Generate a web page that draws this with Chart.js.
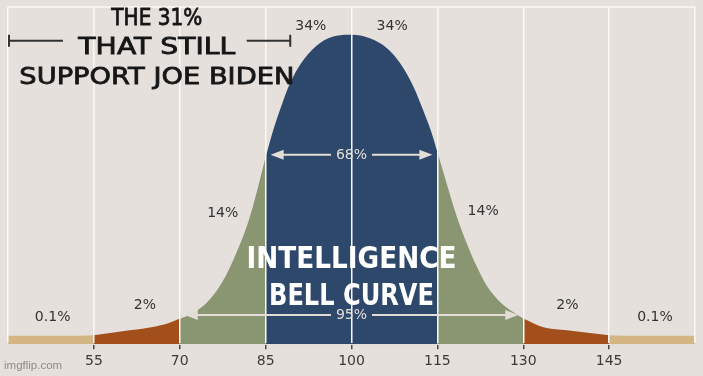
<!DOCTYPE html>
<html><head><meta charset="utf-8">
<script src="https://cdn.jsdelivr.net/npm/chart.js@4/dist/chart.umd.min.js"></script>
<style>html,body{margin:0;padding:0;background:#e5e0dc;overflow:hidden}#wrap{width:703px;height:376px}canvas{display:block}</style>
</head><body><div id="wrap"><canvas id="c" width="703" height="376"></canvas></div>
<script>
// IQ values along the curve and the curve height (% of peak)
const iqPoints = [40, 50, 55, 60, 65, 68, 70, 71, 73, 75.5, 78, 79.6, 81.4, 82.6, 83.7, 85, 86.3, 87.5, 89.3, 91.6, 94.5, 97.4, 100,
  103.2, 106.2, 108.5, 110.8, 112.5, 114.0, 115, 116.6, 118.4, 120.1, 121.9, 123.6, 126.0, 128.3, 130, 133.5, 137.7, 140.5, 145, 150, 160];
const heightPoints = [2.7, 2.7, 2.9, 4.2, 5.5, 6.8, 8.3, 8.9, 10.8, 15.0, 22.0, 28.3, 36.5, 43.4, 51.0, 60.5, 69.0, 75.7, 84.5, 91.9, 97.4, 99.7, 100,
  98.9, 95.7, 90.8, 83.3, 75.7, 68.3, 62.1, 52.1, 41.2, 32.7, 25.0, 19.0, 13.6, 10.3, 8.3, 5.5, 4.5, 3.9, 2.9, 2.7, 2.7];
const bandEdges = [40, 55, 70, 85, 115, 130, 145, 160];
const bandColors = ['#d3b684', '#a24f1c', '#8a9571', '#2e486c', '#8a9571', '#a24f1c', '#d3b684'];
const tickValues = [55, 70, 85, 100, 115, 130, 145];
const gridValues = [40, 55, 70, 85, 100, 115, 130, 145, 160];
const shareLabels = ['34%', '34%', '14%', '14%', '2%', '2%', '0.1%', '0.1%'];
const shareLabelIQ = [92.9, 107.1, 77.5, 123.0, 63.9, 137.7, 47.8, 153.0];
const shareLabelHeight = [102.6, 102.6, 42.4, 43.0, 12.6, 12.6, 8.7, 8.7];
const spanLabels = ['68%', '95%'];
const spanFrom = [85, 70];
const spanTo = [115, 130];
const spanHeight = [61.2, 9.4];
const titleLines = ['INTELLIGENCE', 'BELL CURVE'];
const captionLines = ['THE 31%', 'THAT STILL', 'SUPPORT JOE BIDEN'];

const datasets = [];
for (let i = 0; i < bandColors.length; i++) {
  const pts = [];
  iqPoints.forEach((x, k) => { if (x >= bandEdges[i] && x <= bandEdges[i + 1]) pts.push({x: x, y: heightPoints[k]}); });
  datasets.push({data: pts, backgroundColor: bandColors[i], borderColor: 'rgba(0,0,0,0)', borderWidth: 0, pointRadius: 0, fill: 'origin', cubicInterpolationMode: 'monotone'});
}

const bgPlugin = {
  id: 'bg',
  beforeDraw(chart) {
    const c = chart.ctx; c.save(); c.fillStyle = '#e5e0dc'; c.fillRect(0, 0, chart.width, chart.height); c.restore();
  }
};

function arrowHead(c, x, y, dir) {
  c.beginPath(); c.moveTo(x, y); c.lineTo(x - dir * 13, y - 5); c.lineTo(x - dir * 13, y + 5); c.closePath(); c.fill();
}

const textPlugin = {
  id: 'texts',
  afterDraw(chart) {
    const c = chart.ctx, xs = chart.scales.x, ys = chart.scales.y, a = chart.chartArea;
    c.save();
    // clear strip above the plot
    c.fillStyle = '#e5e0dc'; c.fillRect(0, 0, chart.width, a.top - 1);
    // top frame line
    c.strokeStyle = '#fbf9f6'; c.lineWidth = 1.5;
    c.beginPath(); c.moveTo(a.left, a.top); c.lineTo(a.right, a.top); c.stroke();
    // share labels
    c.fillStyle = '#333'; c.font = '14px "DejaVu Sans"'; c.textAlign = 'center'; c.textBaseline = 'middle';
    shareLabels.forEach((t, i) => c.fillText(t, xs.getPixelForValue(shareLabelIQ[i]), ys.getPixelForValue(shareLabelHeight[i])));
    // span arrows
    spanLabels.forEach((t, i) => {
      const x1 = xs.getPixelForValue(spanFrom[i]) + 5, x2 = xs.getPixelForValue(spanTo[i]) - 5;
      const y = ys.getPixelForValue(spanHeight[i]), xm = xs.getPixelForValue(100);
      c.font = '14px "DejaVu Sans"';
      const w = c.measureText(t).width / 2 + 5;
      c.strokeStyle = '#e2ded6'; c.fillStyle = '#e2ded6'; c.lineWidth = 2;
      c.beginPath(); c.moveTo(x1 + 4, y); c.lineTo(xm - w, y); c.moveTo(xm + w, y); c.lineTo(x2 - 4, y); c.stroke();
      arrowHead(c, x1, y, -1); arrowHead(c, x2, y, 1);
      c.fillText(t, xm, y);
    });
    // headline, each line fitted to its width in the picture
    c.fillStyle = '#ffffff'; c.font = 'bold 30px "DejaVu Sans Condensed"';
    const th = [27.2, 15.2], tw = [210, 165];
    titleLines.forEach((t, i) => {
      const sx = tw[i] / c.measureText(t).width;
      c.save(); c.translate(xs.getPixelForValue(100), ys.getPixelForValue(th[i])); c.scale(sx, 1); c.fillText(t, 0, 0); c.restore();
    });
    // caption, each line fitted to its measured width in the picture
    c.fillStyle = '#161616'; c.strokeStyle = '#161616'; c.lineWidth = 0.8; c.font = '23px "DejaVu Sans"';
    const cy = [105.2, 95.8, 86.1], cw = [91, 157, 275];
    const cx = xs.getPixelForValue(66.0);
    captionLines.forEach((t, i) => {
      const sx = cw[i] / c.measureText(t).width;
      c.save(); c.translate(cx, ys.getPixelForValue(cy[i])); c.scale(sx, 1); c.fillText(t, 0, 0); c.strokeText(t, 0, 0); c.restore();
    });
    // caption bracket
    const by = ys.getPixelForValue(98.1), bl = xs.getPixelForValue(40) + 1, br = xs.getPixelForValue(89.3);
    c.strokeStyle = '#333'; c.lineWidth = 2;
    c.beginPath();
    c.moveTo(bl, by - 6); c.lineTo(bl, by + 6); c.moveTo(bl, by); c.lineTo(xs.getPixelForValue(49.6), by);
    c.moveTo(xs.getPixelForValue(81.7), by); c.lineTo(br, by); c.moveTo(br, by - 6); c.lineTo(br, by + 6);
    c.stroke();
    // watermark
    c.fillStyle = '#8f8b88'; c.font = '11.5px "Liberation Sans"'; c.textAlign = 'left';
    c.fillText('imgflip.com', 4, 366);
    c.restore();
  }
};

new Chart(document.getElementById('c'), {
  type: 'line',
  data: {datasets: datasets},
  options: {
    responsive: false, animation: false,
    layout: {padding: {left: 8, right: 8, top: 7, bottom: 2}},
    plugins: {legend: {display: false}, tooltip: {enabled: false}},
    scales: {
      x: {
        type: 'linear', min: 40, max: 160,
        afterBuildTicks: (ax) => { ax.ticks = gridValues.map(v => ({value: v})); },
        ticks: {autoSkip: false, maxRotation: 0, padding: 4, color: '#3a3a3a', font: {family: 'DejaVu Sans', size: 14},
          callback: (v) => tickValues.includes(v) ? String(v) : ''},
        grid: {color: '#fbf9f6', lineWidth: 1.5, z: 1, tickLength: 5,
          tickColor: (ctx) => (ctx.tick && tickValues.includes(ctx.tick.value)) ? '#4a4744' : 'rgba(0,0,0,0)'},
        border: {display: true, color: '#4a4744', width: 2}
      },
      y: {display: false, min: 0, max: 109}
    }
  },
  plugins: [bgPlugin, textPlugin]
});
</script></body></html>
